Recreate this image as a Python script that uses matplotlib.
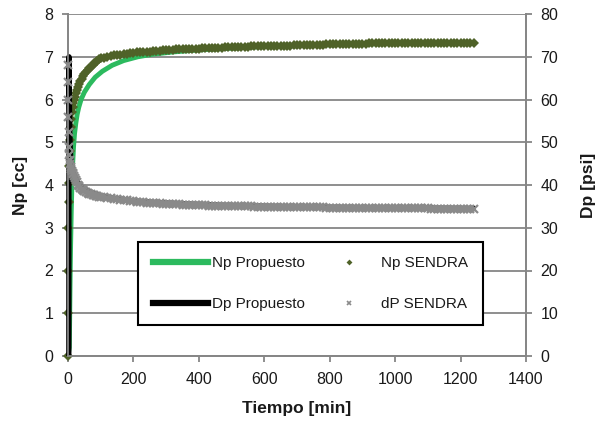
import numpy as np
import matplotlib
matplotlib.use("Agg")
import matplotlib.pyplot as plt
from matplotlib.lines import Line2D

plt.rcParams["font.family"] = ["Liberation Sans", "DejaVu Sans"]

# --- SENDRA measurements (time in minutes) ---
t_sendra_early = [0, 0.5, 1, 1.5, 2, 3, 4, 5, 6, 8, 10, 12, 14, 16, 18, 20, 23, 26,
                  30, 34, 38, 42, 46, 50, 55, 60, 65, 70, 75, 80, 85, 90, 95]
t_sendra_regular = np.arange(100, 1250, 10)
t_sendra = np.concatenate([t_sendra_early, t_sendra_regular])

np_sendra = [
    0.00, 1.00, 2.00, 3.00, 3.60, 4.05, 4.45, 4.80, 5.05, 5.35, 5.55, 5.70, 5.82,
    5.92, 6.00, 6.07, 6.15, 6.22, 6.30, 6.37, 6.43, 6.49, 6.54, 6.59, 6.64, 6.69,
    6.73, 6.77, 6.81, 6.85, 6.88, 6.91, 6.94,
    6.96, 6.98, 7.00, 7.01, 7.03, 7.04, 7.05, 7.06, 7.07, 7.08,
    7.09, 7.10, 7.10, 7.11, 7.12, 7.12, 7.13, 7.14, 7.14, 7.15,
    7.15, 7.16, 7.16, 7.17, 7.17, 7.18, 7.18, 7.18, 7.19, 7.19,
    7.19, 7.20, 7.20, 7.20, 7.21, 7.21, 7.21, 7.21, 7.22, 7.22,
    7.22, 7.22, 7.23, 7.23, 7.23, 7.23, 7.24, 7.24, 7.24, 7.24,
    7.25, 7.25, 7.25, 7.25, 7.26, 7.26, 7.26, 7.26, 7.26, 7.27,
    7.27, 7.27, 7.27, 7.27, 7.28, 7.28, 7.28, 7.28, 7.28, 7.29,
    7.29, 7.29, 7.29, 7.29, 7.29, 7.30, 7.30, 7.30, 7.30, 7.30,
    7.30, 7.30, 7.31, 7.31, 7.31, 7.31, 7.31, 7.31, 7.31, 7.32,
    7.32, 7.32, 7.32, 7.32, 7.32, 7.32, 7.32, 7.32, 7.32, 7.32,
    7.32, 7.32, 7.32, 7.33, 7.33, 7.33, 7.33, 7.33, 7.33, 7.33,
    7.33, 7.33, 7.33, 7.33, 7.33,
]

dp_sendra = [
    68.0, 64.0, 60.0, 56.0, 52.5, 49.0, 47.0, 45.8, 45.0, 44.3, 43.8, 43.3, 42.9,
    42.5, 42.1, 41.7, 41.2, 40.7, 40.1, 39.7, 39.3, 39.0, 38.8, 38.6, 38.4, 38.2,
    38.0, 37.9, 37.7, 37.6, 37.5, 37.4, 37.3,
    37.2, 37.1, 37.0, 36.9, 36.8, 36.7, 36.6, 36.5, 36.4, 36.3,
    36.2, 36.1, 36.0, 35.95, 35.9, 35.85, 35.8, 35.75, 35.7, 35.65,
    35.6, 35.55, 35.5, 35.5, 35.45, 35.4, 35.4, 35.35, 35.35, 35.3,
    35.3, 35.25, 35.25, 35.2, 35.2, 35.2, 35.15, 35.15, 35.1, 35.1,
    35.1, 35.05, 35.05, 35.05, 35.0, 35.0, 35.0, 34.95, 34.95, 34.95,
    34.95, 34.9, 34.9, 34.9, 34.9, 34.85, 34.85, 34.85, 34.85, 34.8,
    34.8, 34.8, 34.8, 34.8, 34.75, 34.75, 34.75, 34.75, 34.75, 34.7,
    34.7, 34.7, 34.7, 34.7, 34.7, 34.7, 34.65, 34.65, 34.65, 34.65,
    34.65, 34.65, 34.65, 34.6, 34.6, 34.6, 34.6, 34.6, 34.6, 34.6,
    34.6, 34.6, 34.55, 34.55, 34.55, 34.55, 34.55, 34.55, 34.55, 34.55,
    34.55, 34.5, 34.5, 34.5, 34.5, 34.5, 34.5, 34.5, 34.5, 34.5,
    34.5, 34.5, 34.5, 34.5, 34.5,
]

# --- Proposed model ---
t_np_prop = [0, 4, 5, 6, 7, 8, 10, 12, 14, 17, 20, 24, 28, 33, 40, 50, 65, 83, 105,
             135, 170, 214, 260, 318, 400, 500, 600, 700, 800, 900, 1000, 1100, 1245]
np_prop = [0.0, 0.2, 0.8, 1.5, 2.1, 2.6, 3.4, 4.0, 4.45, 4.9, 5.2, 5.45, 5.65, 5.82,
           6.0, 6.17, 6.35, 6.52, 6.66, 6.80, 6.91, 7.00, 7.06, 7.11, 7.16, 7.20,
           7.24, 7.26, 7.28, 7.30, 7.31, 7.32, 7.33]

t_dp_prop = [2.5, 3, 4, 5, 6, 7, 8, 10, 13, 16, 20, 25, 30, 37, 45, 55, 65, 80, 100,
             125, 150, 200, 266, 350, 500, 700, 900, 1100, 1245]
dp_prop = [0.0, 70.0, 62.0, 55.0, 51.0, 48.5, 47.0, 45.5, 44.0, 43.0, 42.0, 41.2,
           40.6, 40.0, 39.4, 38.9, 38.5, 38.0, 37.5, 37.1, 36.8, 36.3, 35.9, 35.6,
           35.2, 34.9, 34.7, 34.6, 34.5]

x_ticks = [0, 200, 400, 600, 800, 1000, 1200, 1400]
np_ticks = [0, 1, 2, 3, 4, 5, 6, 7, 8]
dp_ticks = [0, 10, 20, 30, 40, 50, 60, 70, 80]

GREEN = "#2cba5e"
OLIVE = "#4f6228"
GREY_MARK = "#8a8a8a"
AXIS_GREY = "#868686"
TXT = "#1a1a1a"
FS = 11
TICK_FS = 11.5
LABEL_FS = 12.5

fig = plt.figure(figsize=(6.04, 4.22), dpi=100)
ax = fig.add_axes([68 / 604, 1 - 356 / 422, (526 - 68) / 604, (356 - 14) / 422])
ax2 = ax.twinx()

ax.set_xlim(0, 1400)
ax.set_ylim(0, 8)
ax2.set_ylim(0, 80)
ax.set_xticks(x_ticks)
ax.set_yticks(np_ticks)
ax2.set_yticks(dp_ticks)

for a in (ax, ax2):
    for side in ("left", "right", "bottom"):
        a.spines[side].set_color(AXIS_GREY)
        a.spines[side].set_linewidth(1.3)
    a.spines["top"].set_visible(False)
    a.tick_params(colors=AXIS_GREY, labelcolor=TXT, labelsize=TICK_FS, direction="out",
                  length=4.5, width=1.3, pad=6)
ax.tick_params(axis="x", pad=7)

# horizontal grid on the Np scale
ax.set_axisbelow(True)
ax.grid(True, axis="y", color=AXIS_GREY, linewidth=1.3)

ax.plot(t_np_prop, np_prop, color=GREEN, linewidth=3.5, zorder=2, solid_capstyle="butt")
ax.plot(t_sendra, np_sendra, linestyle="none", marker="D", markersize=5.2,
        color=OLIVE, markeredgewidth=0, zorder=3, clip_on=False)

ax2.plot(t_dp_prop, dp_prop, color="black", linewidth=3.8, zorder=2,
         solid_capstyle="butt", clip_on=False)
ax2.plot(t_sendra, dp_sendra, linestyle="none", marker="x", markersize=5.2,
         markeredgewidth=1.6, color=GREY_MARK, zorder=3, clip_on=False)

ax.set_ylabel("Np [cc]", fontsize=LABEL_FS, fontweight="bold", color=TXT, labelpad=12)
ax2.set_ylabel("Dp [psi]", fontsize=LABEL_FS, fontweight="bold", color=TXT, rotation=90,
               labelpad=16)
ax.set_xlabel("Tiempo [min]", fontsize=LABEL_FS, fontweight="bold", color=TXT, labelpad=10)

handles = [
    Line2D([], [], color=GREEN, linewidth=4.5),
    Line2D([], [], color="black", linewidth=4.5),
    Line2D([], [], linestyle="none", marker="D", markersize=3, color=OLIVE,
           markeredgewidth=0),
    Line2D([], [], linestyle="none", marker="x", markersize=3.5, markeredgewidth=1.2,
           color=GREY_MARK),
]
labels = ["Np Propuesto", "Dp Propuesto", "Np SENDRA", "dP SENDRA"]
leg = ax2.legend(handles, labels, ncol=2, loc="center",
                 bbox_to_anchor=(310.5 / 604, 1 - 283.5 / 422),
                 bbox_transform=fig.transFigure, fontsize=FS, frameon=True,
                 fancybox=False, edgecolor="black", framealpha=1,
                 handlelength=3.6, handletextpad=0.3, labelspacing=1.75,
                 columnspacing=1.1, borderpad=0.95)
leg.get_frame().set_linewidth(1.5)
for txt in leg.get_texts():
    txt.set_color(TXT)

fig.savefig("out.png", dpi=100)
